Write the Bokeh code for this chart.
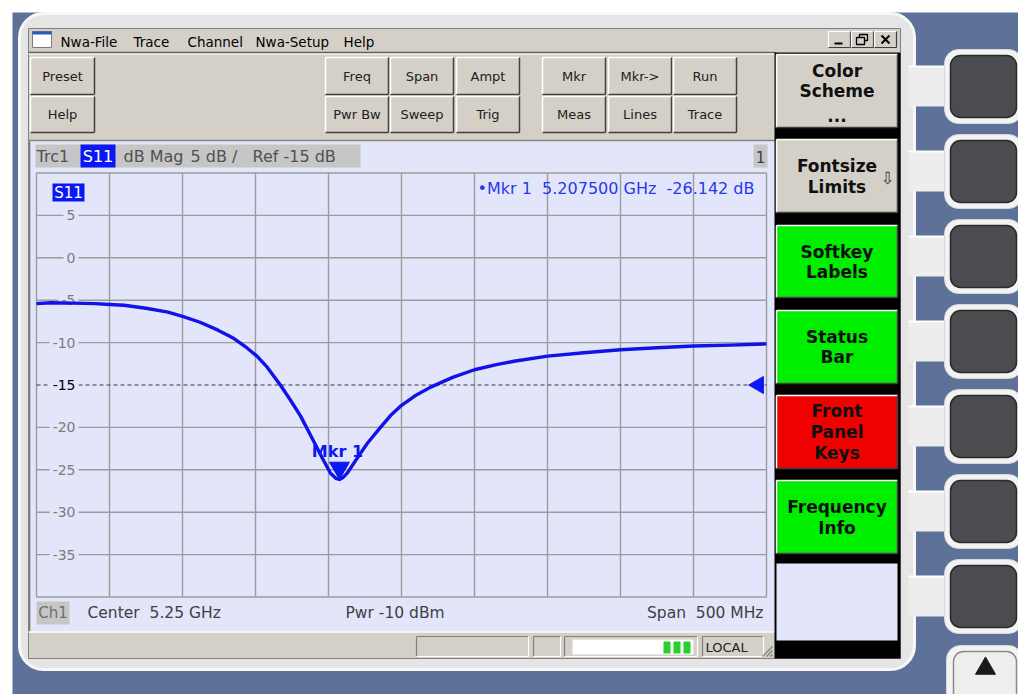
import numpy as np
from bokeh.plotting import figure
from bokeh.models import Range1d
from bokeh.core.properties import value
from bokeh.embed import file_html
from bokeh.resources import INLINE

# ---------------- data ----------------
freq_ghz = [5.000, 5.010, 5.025, 5.040, 5.050, 5.060, 5.075, 5.090, 5.100, 5.112,
            5.124, 5.135, 5.144, 5.151, 5.158, 5.167, 5.174, 5.181, 5.190, 5.196,
            5.2014, 5.205, 5.2075, 5.210, 5.2128, 5.219, 5.2265, 5.2356, 5.2425, 5.2493,
            5.259, 5.270, 5.285, 5.300, 5.315, 5.327, 5.350, 5.375, 5.400, 5.425,
            5.450, 5.475, 5.500]
s11_db = [-5.4, -5.3, -5.35, -5.4, -5.5, -5.6, -5.95, -6.4, -6.9, -7.6,
          -8.5, -9.5, -10.6, -11.6, -12.9, -15.0, -16.8, -18.7, -21.7, -23.7,
          -25.4, -26.0, -26.14, -25.9, -25.4, -23.8, -21.9, -20.0, -18.6, -17.5,
          -16.3, -15.25, -14.1, -13.2, -12.6, -12.2, -11.6, -11.2, -10.85, -10.6,
          -10.4, -10.3, -10.15]

freq_grid_ghz = [5.00, 5.05, 5.10, 5.15, 5.20, 5.25, 5.30, 5.35, 5.40, 5.45, 5.50]
db_grid = [10, 5, 0, -5, -10, -15, -20, -25, -30, -35, -40]
db_tick_values = [5, 0, -5, -10, -15, -20, -25, -30, -35]
db_tick_labels = ["5", "0", "-5", "-10", "-15", "-20", "-25", "-30", "-35"]

ref_db = -15
scale_db = 5
center_ghz = 5.25
span_mhz = 500
power_dbm = -10
mkr_freq_ghz = 5.2075
mkr_db = -26.142

menu_items = ["Nwa-File", "Trace", "Channel", "Nwa-Setup", "Help"]
toolbar_left = ["Preset", "Help"]
toolbar_row1 = ["Freq", "Span", "Ampt", "Mkr", "Mkr->", "Run"]
toolbar_row2 = ["Pwr Bw", "Sweep", "Trig", "Meas", "Lines", "Trace"]
softkey_labels = [["Color", "Scheme", "..."], ["Fontsize", "Limits"], ["Softkey", "Labels"],
                  ["Status", "Bar"], ["Front", "Panel", "Keys"], ["Frequency", "Info"]]
softkey_state = ["gray", "gray", "on", "on", "off", "on"]

# ---------------- layout (pixels of the screen) ----------------
W, H = 1018, 694
GX0, GX1, GY0, GY1 = 36.0, 766.0, 172.5, 596.5
NB = "\u00a0"

BLUE_BG = "#5d7199"
PANEL = "#e5e5e5"
WIN = "#d4d0c8"
LAV = "#e3e6fa"
GRID = "#9c9c9c"
TRACE = "#1212e8"
ACCENT = "#0a18f4"
GREEN = "#00ee00"
RED = "#f00000"
FONT = "DejaVu Sans"

fmin, fmax = freq_grid_ghz[0], freq_grid_ghz[-1]
dmin, dmax = db_grid[-1], db_grid[0]
fpp = (fmax - fmin) / (GX1 - GX0)
dpp = (dmax - dmin) / (GY1 - GY0)

p = figure(width=W, height=H, x_range=Range1d(0, W), y_range=Range1d(H, 0),
           output_backend="svg", toolbar_location=None, min_border=0,
           x_axis_location=None, y_axis_location=None)
p.grid.visible = False
p.outline_line_color = None
p.background_fill_color = "white"
p.border_fill_color = "white"
p.extra_x_ranges = {"f": Range1d(fmin + (0 - GX0) * fpp, fmin + (W - GX0) * fpp)}
p.extra_y_ranges = {"db": Range1d(dmax - (H - GY0) * dpp, dmax - (0 - GY0) * dpp)}


def box(l, t, r, b, fill, line=None, lw=1, radius=0):
    kw = {}
    if radius:
        kw["border_radius"] = radius
    p.quad(left=[l], right=[r], top=[t], bottom=[b], fill_color=fill,
           line_color=line, line_width=lw, **kw)


def bevel(l, t, r, b, fill=WIN, raised=True, lw=1.5):
    box(l, t, r, b, fill)
    hi, lo = ("white", "#404040") if raised else ("#808080", "white")
    p.segment(x0=[l, l], y0=[t, t], x1=[r, l], y1=[t, b], line_color=hi, line_width=lw)
    p.segment(x0=[l, r], y0=[b, t], x1=[r, r], y1=[b, b], line_color=lo, line_width=lw)


def txt(x, y, s, size=13, color="black", align="left", bold=False, font=FONT, **kw):
    p.text(x=[x], y=[y], text=[s], text_font=value(font), text_font_size=f"{size}px",
           text_color=color, text_align=align, text_baseline="middle",
           text_font_style="bold" if bold else "normal", **kw)


# ---------------- device background ----------------
box(12, 12, W + 10, H + 10, BLUE_BG)
box(19, 13, 914, 669, PANEL, line="#f7f7f7", lw=3, radius=24)

# hardkeys on the right
key_tops = [55, 140, 225, 310, 395, 480, 565]
for kt in key_tops:
    kc = kt + 31
    box(908, kc - 20, 952, kc + 20, "#ededed")
    p.segment(x0=[908], y0=[kc - 20], x1=[952], y1=[kc - 20], line_color="white", line_width=2)
    box(944, kt - 6, 1022, kt + 68, "#f3f3f3", line="#d8d8d8", lw=1, radius=14)
    box(950, kt, 1016, kt + 62, "#4b4c4f", line="#2a2a2a", lw=1.5, radius=10)
box(946, 645, 1022, 706, "#f3f3f3", line="#d8d8d8", lw=1, radius=14)
box(953, 651, 1016, 706, "#eeeeee", line="#8a8a8a", lw=1.5, radius=10)
p.scatter(x=[985], y=[668], marker="triangle", size=20, fill_color="#1a1a1a", line_color="#1a1a1a")

# ---------------- application window ----------------
box(28, 28, 900, 658, WIN, line="#808080", lw=1)

# menu bar
box(32, 31, 51, 47, "white", line="#7a7a7a", lw=1)
box(32, 31, 51, 34, "#2a5ab8")
menu_x = [60, 133, 187, 255, 343]
for mx, m in zip(menu_x, menu_items):
    txt(mx, 41, m, size=13.5)
for bx in [828, 851, 874]:
    bevel(bx, 31, bx + 22, 47, lw=1.2)
p.segment(x0=[834], y0=[43], x1=[842], y1=[43], line_color="black", line_width=2)
box(859, 34, 867, 40, None, line="black", lw=1.3)
box(856, 37, 864, 44, WIN, line="black", lw=1.3)
p.segment(x0=[881, 881], y0=[35, 43], x1=[889, 889], y1=[43, 35], line_color="black", line_width=2)

p.segment(x0=[28], y0=[52], x1=[775], y1=[52], line_color="#606060", line_width=1.5)
p.segment(x0=[28], y0=[53.5], x1=[775], y1=[53.5], line_color="white", line_width=1)

# toolbar buttons
bevel(30, 57, 94, 94)
bevel(30, 96, 94, 132)
txt(62, 75.5, toolbar_left[0], size=13, align="center", color="#202020")
txt(62, 114, toolbar_left[1], size=13, align="center", color="#202020")
btn_x = [325, 390, 456, 542, 608, 673]
for bx, a, b in zip(btn_x, toolbar_row1, toolbar_row2):
    bevel(bx, 57, bx + 63, 94)
    bevel(bx, 96, bx + 63, 132)
    txt(bx + 31.5, 75.5, a, size=13, align="center", color="#202020")
    txt(bx + 31.5, 114, b, size=13, align="center", color="#202020")
p.segment(x0=[28], y0=[140], x1=[775], y1=[140], line_color="#808080", line_width=1.5)

# ---------------- channel area ----------------
box(30, 141, 775, 631, LAV)
p.segment(x0=[29], y0=[141], x1=[29], y1=[631], line_color="#7a7a7a", line_width=1.5)

# trace header
box(35, 144, 360, 167, "#c6c6c6")
box(80, 144, 115, 167, ACCENT)
txt(36, 156, "Trc1", size=16, color="#505050")
txt(97.5, 156, "S11", size=16, color="white", align="center")
txt(123, 156, "dB Mag", size=16, color="#505050")
txt(190, 156, f"{scale_db} dB /", size=16, color="#505050")
txt(252, 156, f"Ref {ref_db} dB", size=16, color="#505050")
box(753, 144, 767, 167, "#c6c6c6")
txt(760, 156, "1", size=15, color="#404040", align="center")

# grid (through the frequency / dB scales)
grid_db = [d for d in db_grid if d != ref_db]
p.segment(x0=freq_grid_ghz, x1=freq_grid_ghz, y0=[dmin] * len(freq_grid_ghz),
          y1=[dmax] * len(freq_grid_ghz), line_color=GRID, line_width=1.4,
          x_range_name="f", y_range_name="db")
p.segment(x0=[fmin] * len(grid_db), x1=[fmax] * len(grid_db), y0=grid_db, y1=grid_db,
          line_color=GRID, line_width=1.4, x_range_name="f", y_range_name="db")
p.segment(x0=[fmin], x1=[fmax], y0=[ref_db], y1=[ref_db], line_color="#3a3a3a",
          line_width=1.2, line_dash="4 3", x_range_name="f", y_range_name="db")

# dB tick labels inside the diagram
lab_colors = ["black" if v == ref_db else "#7c7c7c" for v in db_tick_values]
p.text(x=[78] * len(db_tick_values), y=db_tick_values, text=db_tick_labels,
       text_font=value(FONT), text_font_size="14px", text_color=lab_colors,
       text_align="right", text_baseline="middle", background_fill_color=LAV,
       padding=3, y_range_name="db")

# S11 tag
box(52, 183, 84, 201, ACCENT)
txt(68, 192, "S11", size=15, color="white", align="center")

# the trace
p.line(freq_ghz, s11_db, line_color=TRACE, line_width=3.4, line_join="round",
       x_range_name="f", y_range_name="db")

# reference level arrow
p.scatter(x=[758], y=[ref_db], marker="triangle", angle=np.pi / 2, size=17,
          fill_color=ACCENT, line_color=ACCENT, y_range_name="db")

# marker
p.scatter(x=[mkr_freq_ghz], y=[mkr_db + 11.5 * dpp], marker="inverted_triangle", size=20,
          fill_color=ACCENT, line_color=ACCENT, x_range_name="f", y_range_name="db")
p.text(x=[mkr_freq_ghz], y=[mkr_db], text=["Mkr 1"], text_font=value(FONT),
       text_font_size="16px", text_font_style="bold", text_color=ACCENT, text_align="center",
       text_baseline="middle", y_offset=-28, x_offset=-2, x_range_name="f", y_range_name="db")
txt(754, 188, f"\u2022Mkr 1{NB} {mkr_freq_ghz:.6f} GHz{NB} {mkr_db:.3f} dB", size=16,
    color="#2638ee", align="right")

# channel info line
box(36, 601, 69, 624, "#c6c6c6")
txt(52.5, 612.5, "Ch1", size=15, color="#707070", align="center")
txt(87, 612.5, f"Center{NB} {center_ghz} GHz", size=15.5, color="#404040")
txt(345, 612.5, f"Pwr {power_dbm} dBm", size=15.5, color="#404040")
txt(763, 612.5, f"Span{NB} {span_mhz} MHz", size=15.5, color="#404040", align="right")

# status bar
p.segment(x0=[28], y0=[631.5], x1=[775], y1=[631.5], line_color="white", line_width=1.5)
for l, r in [(416, 528), (533, 560), (564, 697), (702, 763)]:
    bevel(l, 636, r, 656, raised=False, lw=1.2)
box(572, 639, 693, 654, "white")
for gx in [663, 673, 683]:
    box(gx, 641, gx + 7, 653, "#2ad02a")
txt(705, 646.5, "LOCAL", size=13, color="#202020")
p.segment(x0=[762, 766, 770], y0=[656, 656, 656], x1=[772, 772, 772], y1=[646, 650, 654],
          line_color="#808080", line_width=1.2)

# ---------------- softkey panel ----------------
box(774, 52, 900, 658, "black")
sk_tops = [54, 139, 225, 310, 395, 480]
sk_h = [73, 73, 72, 73, 73, 73]
fills = {"gray": WIN, "on": GREEN, "off": RED}
line_ys = [[70, 90, 115], [165, 186], [251, 271], [336, 356], [410, 431, 452], [506, 527]]
for t, h, state, labels, ys in zip(sk_tops, sk_h, softkey_state, softkey_labels, line_ys):
    bevel(776, t, 897, t + h, fill=fills[state], lw=1.5)
    for s, yy in zip(labels, ys):
        txt(836.5, yy, s, size=17, bold=True, align="center", color="#101010")
txt(887, 177, "\u21e9", size=17, color="#404040", align="center")
box(776, 563, 897, 640, LAV)

open("out.html", "w").write(file_html(p, INLINE))
